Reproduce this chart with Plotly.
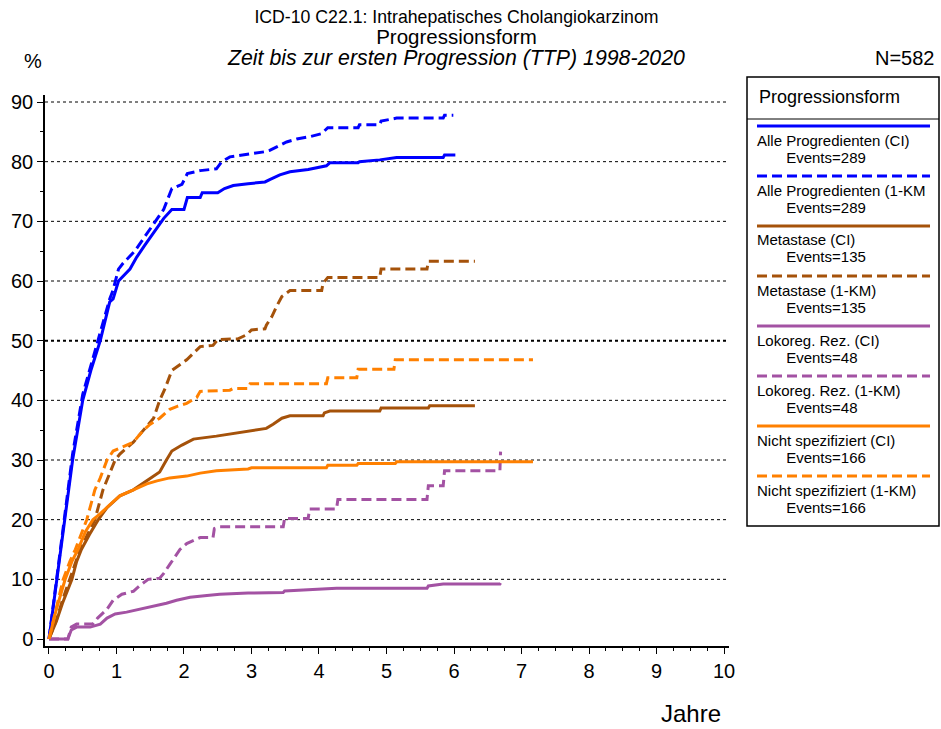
import plotly.graph_objects as go

# ---- data -------------------------------------------------------------
# Cumulative incidence (CI) and 1-Kaplan-Meier (1-KM) curves, time in years, values in %
all_ci_t = [0, 0.12, 0.24, 0.35, 0.5, 0.62, 0.76, 0.9, 0.95, 1.03, 1.2, 1.3, 1.42, 1.55, 1.7, 1.82,
            2.0, 2.05, 2.24, 2.27, 2.5, 2.6, 2.73, 2.95, 3.2, 3.27, 3.42, 3.57, 3.84, 4.11, 4.16,
            4.58, 4.6, 4.9, 5.15, 5.84, 5.86, 6.02]
all_ci_v = [0, 10, 20, 30, 40, 45, 50, 56.5, 57, 60, 62, 64, 66, 68, 70.5, 72,
            72, 74, 74, 74.8, 74.8, 75.5, 76, 76.3, 76.6, 77.0, 77.8, 78.3, 78.7, 79.3, 79.8,
            79.8, 80.0, 80.3, 80.7, 80.7, 81.1, 81.1]

all_km_t = [0, 0.12, 0.24, 0.35, 0.5, 0.62, 0.75, 0.9, 0.95, 1.03, 1.1, 1.27, 1.45, 1.57, 1.7, 1.82,
            1.97, 2.05, 2.24, 2.48, 2.56, 2.68, 2.95, 3.22, 3.27, 3.4, 3.52, 3.67, 3.87, 4.04, 4.13,
            4.58, 4.6, 4.9, 4.92, 5.15, 5.84, 5.86, 5.99]
all_km_v = [0, 10.5, 21, 31, 41, 46, 51, 57, 58.5, 62, 63, 65, 68, 70, 72, 75.5,
            76.2, 78, 78.5, 78.8, 80, 80.8, 81.2, 81.7, 81.9, 82.6, 83.3, 83.8, 84.2, 84.7, 85.7,
            85.7, 86.2, 86.2, 86.8, 87.3, 87.3, 87.8, 87.8]

met_ci_t = [0, 0.11, 0.2, 0.34, 0.41, 0.48, 0.6, 0.73, 0.86, 1.05, 1.25, 1.45, 1.64, 1.74, 1.82,
            1.97, 2.14, 2.48, 2.95, 3.22, 3.32, 3.45, 3.57, 4.06, 4.08, 4.16, 4.9, 4.92, 5.62,
            5.64, 6.31]
met_ci_v = [0, 3, 6, 10, 13, 15, 17.5, 20, 22, 24, 25, 26.5, 28, 30, 31.5,
            32.5, 33.5, 34, 34.9, 35.3, 36.0, 37.0, 37.4, 37.4, 37.9, 38.2, 38.2, 38.7, 38.7,
            39.1, 39.1]

met_km_t = [0, 0.11, 0.2, 0.31, 0.46, 0.68, 0.8, 0.98, 1.05, 1.25, 1.4, 1.55, 1.64, 1.72, 1.82,
            1.89, 2.04, 2.14, 2.24, 2.43, 2.5, 2.8, 2.93, 3.0, 3.2, 3.22, 3.3, 3.37, 3.45, 3.57,
            4.04, 4.06, 4.13, 4.9, 4.92, 5.6, 5.62, 6.31]
met_km_v = [0, 3.2, 6.5, 10, 15, 20, 25, 30, 31, 33, 35, 37, 40, 42, 45,
            45.6, 46.8, 47.9, 49, 49.2, 50.2, 50.3, 51, 51.8, 52, 52.6, 54, 55.7, 57.4, 58.4,
            58.4, 59.6, 60.6, 60.6, 62, 62, 63.3, 63.3]

lok_ci_t = [0, 0.28, 0.33, 0.41, 0.61, 0.76, 0.86, 0.98, 1.15, 1.35, 1.55, 1.74, 1.89, 2.09, 2.34,
            2.53, 2.95, 3.47, 3.49, 3.84, 4.26, 5.6, 5.62, 5.84, 6.68, 6.69]
lok_ci_v = [0, 0, 1.5, 2, 2, 2.5, 3.5, 4.2, 4.5, 5, 5.5, 6, 6.5, 7, 7.3,
            7.5, 7.7, 7.8, 8.04, 8.2, 8.5, 8.5, 8.9, 9.2, 9.2, 9.4]

lok_km_t = [0, 0.28, 0.33, 0.41, 0.65, 0.72, 0.86, 0.95, 1.08, 1.25, 1.35, 1.47, 1.64, 1.7, 1.79,
            1.94, 2.04, 2.24, 2.43, 2.45, 2.53, 3.47, 3.49, 3.84, 3.86, 4.26, 4.28, 5.6, 5.62,
            5.84, 5.86, 6.68, 6.69]
lok_km_v = [0, 0, 2, 2.5, 2.5, 3.5, 5, 6.5, 7.5, 8, 9, 10, 10.2, 11, 12.5,
            15, 16, 17, 17, 18.5, 18.8, 18.8, 20.2, 20.2, 21.8, 21.8, 23.4, 23.4, 25.7,
            25.7, 28.2, 28.2, 31.4]

ns_ci_t = [0, 0.11, 0.24, 0.34, 0.43, 0.54, 0.65, 0.76, 0.9, 1.05, 1.25, 1.45, 1.6, 1.79, 2.04,
           2.24, 2.48, 2.95, 3.0, 4.11, 4.13, 4.56, 4.58, 5.13, 5.15, 7.17]
ns_ci_v = [0, 5, 10, 13, 15, 18, 20, 21, 22.5, 24, 25, 26, 26.5, 27, 27.3,
           27.8, 28.2, 28.5, 28.7, 28.7, 29.1, 29.1, 29.4, 29.4, 29.7, 29.7]

ns_km_t = [0, 0.1, 0.21, 0.31, 0.39, 0.56, 0.68, 0.76, 0.86, 0.95, 1.15, 1.25, 1.4, 1.5, 1.64,
           1.79, 1.9, 2.04, 2.19, 2.24, 2.68, 2.73, 2.95, 2.98, 4.11, 4.13, 4.56, 4.58, 5.11,
           5.13, 7.17]
ns_km_v = [0, 5, 10, 13, 15, 20, 25, 27, 30, 31.5, 32.5, 33, 35, 36, 37,
           38.5, 39, 39.5, 40.5, 41.5, 41.7, 42, 42, 42.8, 42.8, 43.8, 43.8, 45.2, 45.2,
           46.8, 46.8]

series_names = ["Alle Progredienten (CI)", "Alle Progredienten (1-KM",
                "Metastase (CI)", "Metastase (1-KM)",
                "Lokoreg. Rez. (CI)", "Lokoreg. Rez. (1-KM)",
                "Nicht spezifiziert (CI)", "Nicht spezifiziert (1-KM)"]
series_events = [289, 289, 135, 135, 48, 48, 166, 166]
series_t = [all_ci_t, all_km_t, met_ci_t, met_km_t, lok_ci_t, lok_km_t, ns_ci_t, ns_km_t]
series_v = [all_ci_v, all_km_v, met_ci_v, met_km_v, lok_ci_v, lok_km_v, ns_ci_v, ns_km_v]

x_ticks = list(range(0, 11))
y_ticks = list(range(0, 100, 10))
grid_levels = [10, 20, 30, 40, 50, 60, 70, 80, 90]

# ---- styling ----------------------------------------------------------
colors = ["#0000FF", "#0000FF", "#A5520A", "#A5520A", "#A352A3", "#A352A3", "#FF8000", "#FF8000"]
dashes = ["solid", "10px,5px"] * 4
FONT = "Liberation Sans, Arial, sans-serif"

W, H = 941, 729
ML, MR, MT, MB = 45, 212, 95, 83
PW, PH = W - ML - MR, H - MT - MB


def px(x):
    return (x - ML) / PW


def py(y):
    return (H - MB - y) / PH


def sized(text, size):
    return f'<span style="font-size:{size}px">{text}</span>'


fig = go.Figure()
for t, v, name, c, d in zip(series_t, series_v, series_names, colors, dashes):
    fig.add_trace(go.Scatter(x=t, y=v, mode="lines", name=name, showlegend=False,
                             line=dict(color=c, width=3, dash=d), hoverinfo="skip"))

shapes = []
# horizontal dotted reference lines
for g in grid_levels:
    shapes.append(dict(type="line", xref="paper", yref="y", x0=0, x1=1, y0=g, y1=g,
                       line=dict(color="black", width=2 if g == 50 else 1, dash="dot"),
                       layer="below"))

# legend box
bx0, bx1, by0, by1 = 747, 939, 77, 526
shapes.append(dict(type="rect", xref="paper", yref="paper", x0=px(bx0), x1=px(bx1),
                   y0=py(by1), y1=py(by0), line=dict(color="black", width=1.5)))
shapes.append(dict(type="line", xref="paper", yref="paper", x0=px(bx0), x1=px(bx1),
                   y0=py(119), y1=py(119), line=dict(color="black", width=1)))

annotations = [
    dict(text="Progressionsform", x=px(757), y=py(97), xanchor="left", yanchor="middle",
         font=dict(size=18)),
]
indent = "&nbsp;" * 7
for i, (name, ev, c, d) in enumerate(zip(series_names, series_events, colors, dashes)):
    ly = 126 + 50 * i
    shapes.append(dict(type="line", xref="paper", yref="paper", x0=px(757), x1=px(930),
                       y0=py(ly), y1=py(ly), line=dict(color=c, width=3, dash=d)))
    # base size sets the line pitch (1.3 x base), the spans set the glyph size
    entry = sized(name, 15) + "<br>" + sized(indent + f"Events={ev}", 15)
    annotations.append(dict(text=entry, x=px(755), y=py(ly + 22.5), xanchor="left",
                            yanchor="middle", align="left", font=dict(size=13.2)))

# title block: three lines in one text, pitch 1.3 x 16 px
title = (sized("ICD-10 C22.1: Intrahepatisches Cholangiokarzinom", 17.7) + "<br>"
         + sized("Progressionsform", 20.5) + "<br>"
         + sized("<i>Zeit bis zur ersten Progression (TTP) 1998-2020</i>", 21.3))
annotations += [
    dict(text=title, x=px(456), y=py(38), xanchor="center", yanchor="middle",
         align="center", font=dict(size=16)),
    dict(text="%", x=px(33), y=py(61), xanchor="center", yanchor="middle", font=dict(size=20)),
    dict(text="N=582", x=px(937), y=py(58), xanchor="right", yanchor="middle",
         font=dict(size=20)),
    dict(text="Jahre", x=px(723), y=py(713), xanchor="right", yanchor="middle",
         font=dict(size=24)),
]
for a in annotations:
    a.update(xref="paper", yref="paper", showarrow=False)
    a["font"].update(family=FONT, color="black")

fig.update_layout(
    width=W, height=H,
    margin=dict(l=ML, r=MR, t=MT, b=MB, pad=0),
    paper_bgcolor="white", plot_bgcolor="white",
    font=dict(family=FONT, color="black"),
    shapes=shapes, annotations=annotations,
    xaxis=dict(range=[-0.059, 10.074], tickvals=x_ticks, ticks="outside", ticklen=6,
               tickwidth=1, tickcolor="black", showline=True, linecolor="black", linewidth=1.5,
               showgrid=False, zeroline=False, tickfont=dict(size=20, family=FONT),
               minor=dict(dtick=0.25, tick0=0, ticks="outside", ticklen=3, tickcolor="black",
                          showgrid=False)),
    yaxis=dict(range=[-1.173, 91.173], tickvals=y_ticks, ticks="outside", ticklen=6,
               tickwidth=1, tickcolor="black", showline=True, linecolor="black", linewidth=1.5,
               showgrid=False, zeroline=False, tickfont=dict(size=20, family=FONT),
               minor=dict(dtick=5, tick0=0, ticks="outside", ticklen=3, tickcolor="black",
                          showgrid=False)),
)

fig.write_html("out.html")
